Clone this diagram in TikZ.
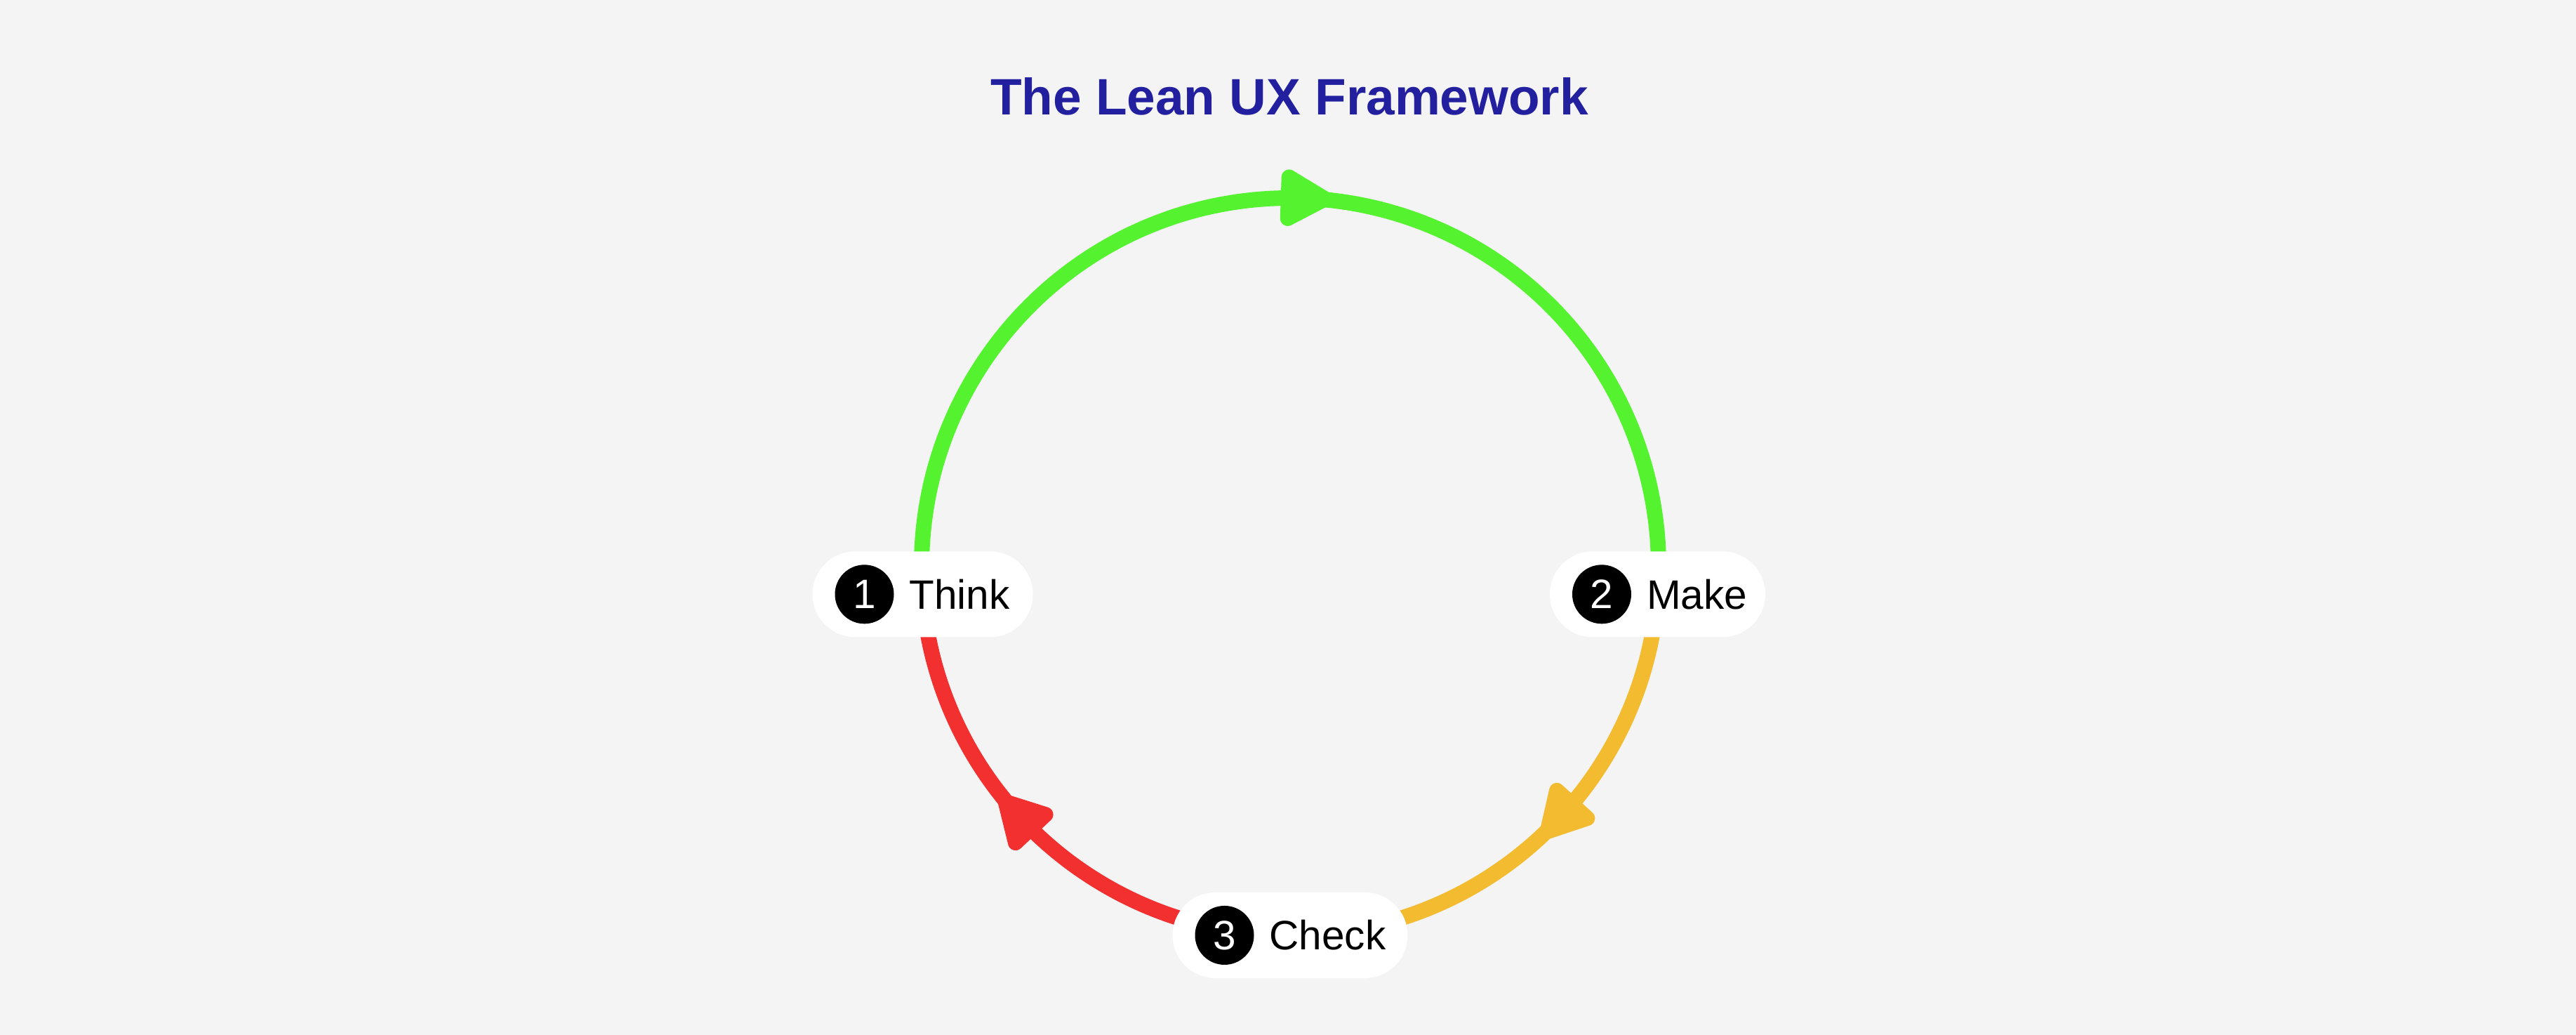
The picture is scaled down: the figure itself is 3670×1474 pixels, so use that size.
\documentclass[tikz,border=0pt]{standalone}
\usepackage{fontspec}
\setmainfont{Liberation Sans}
\usetikzlibrary{arrows.meta,calc,positioning,decorations.markings,backgrounds}
\definecolor{bggray}{HTML}{F4F4F4}
\definecolor{loopgreen}{HTML}{55F22F}
\definecolor{loopyellow}{HTML}{F2BB30}
\definecolor{loopred}{HTML}{F23030}
\definecolor{titleblue}{HTML}{2320A0}

\begin{document}
\begin{tikzpicture}[x=0.2pt,y=0.2pt,
      loop/.style={line width=4.4pt,postaction={decorate},
        decoration={markings,mark=at position #1 with
          {\arrow[xshift=8.7pt]{Triangle[length=17.4pt,width=17.8pt,round]}}}},
      pill/.style={fill=white,rounded corners=12.2pt,minimum height=24.4pt,inner sep=0pt},
      badge/.style={circle,fill=black,text=white,minimum size=16.8pt,inner sep=0pt,
        font=\fontsize{11.7}{12}\selectfont},
      lbl/.style={inner sep=0pt,font=\fontsize{11.7}{12}\selectfont}]
      \useasboundingbox(0,0)rectangle(3670,1474);
      \coordinate(c)at(1838,667);
      \node[anchor=base,text=titleblue,font=\fontsize{14.6}{16}\bfseries\selectfont]
        (title)at(1837,1310){The Lean UX Framework};
      % the three steps
      \node[pill,minimum width=62.8pt](think)at([shift={(184.3:525)}]c){};
      \node[badge,right=6.4pt of think.west](n1){1};
      \node[lbl,right=4pt of n1](t1){Think};
      \node[pill,minimum width=61.4pt](make)at([shift={(-4.3:525)}]c){};
      \node[badge,right=6.4pt of make.west](n2){2};
      \node[lbl,right=4pt of n2](t2){Make};
      \node[pill,minimum width=67pt](check)at([shift={(-90:525)}]c){};
      \node[badge,right=6.4pt of check.west](n3){3};
      \node[lbl,right=4pt of n3](t3){Check};
      \begin{scope}[on background layer]
        \fill[bggray](0,0)rectangle(3670,1474);
        \draw[loop=0.51,loopgreen](think.center)arc[start angle=184.3,end angle=-4.3,radius=525];
        \draw[loop=0.443,loopyellow](make.center)arc[start angle=-4.3,end angle=-90,radius=525];
        \draw[loop=0.547,loopred](check.center)arc[start angle=-90,end angle=-175.7,radius=525];
      \end{scope}
    \end{tikzpicture}
\end{document}
